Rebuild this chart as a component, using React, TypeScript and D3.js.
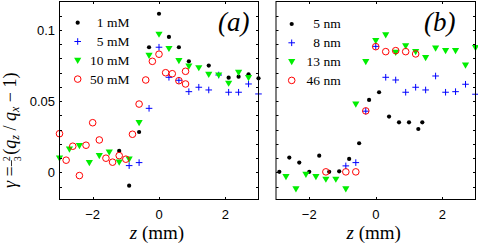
import {useEffect, useRef} from 'react';
import * as d3 from 'd3';

// panel (a): concentrations
const Z_1MM = [-1.2, -0.9, -0.6, -0.3, 0, 0.3, 0.6, 0.9, 1.5, 2.1, 2.4, 2.7, 3.0];
const G_1MM = [0.0151, -0.0093, 0.0284, 0.0879, 0.1114, 0.0951, 0.0879, 0.078, 0.075, 0.0665, 0.0672, 0.0689, 0.0661];

const Z_5MM = [-0.9, -0.6, -0.3, 0, 0.3, 0.6, 0.9, 1.2, 1.5, 1.8, 2.1, 2.4, 2.7, 3.0];
const G_5MM = [0.0048, 0.0069, 0.045, 0.0879, 0.0668, 0.0647, 0.0567, 0.0598, 0.0579, 0.0684, 0.0563, 0.0563, 0.0621, 0.0551];

const Z_10MM = [-3, -2.7, -2.4, -2.1, -1.8, -1.5, -1.2, -0.9, -0.6, -0.3, 0, 0.3, 0.6, 0.9, 1.2, 1.5, 1.8, 2.1, 2.4, 2.7];
const G_10MM = [0.010, 0.0163, 0.0188, 0.0069, 0.0118, 0.0142, 0.0072, 0.0093, 0.035, 0.0822, 0.097, 0.087, 0.0785, 0.0747, 0.0735, 0.0689, 0.0684, 0.0626, 0.0703, 0.0665];

const Z_50MM = [-3, -2.8, -2.6, -2.4, -2.2, -2.0, -1.8, -1.6, -1.4, -1.2, -1.0, -0.8, -0.6, -0.4, -0.2, 0, 0.2, 0.4, 0.6, 0.8, 0.8];
const G_50MM = [0.0272, 0.0086, 0.0184, -0.0022, 0.0191, 0.0349, 0.0228, 0.0100, 0.0072, 0.0118, 0.0093, 0.0268, 0.048, 0.0649, 0.078, 0.083, 0.070, 0.0693, 0.0644, 0.071, 0.0621];

// panel (b): sizes
const Z_5NM = [-2.9, -2.6, -2.3, -2.0, -1.7, -1.4, -1.1, -0.8, -0.5, -0.2, 0.1, 0.4, 0.7, 1.0, 1.28, 1.4];
const G_5NM = [0.0004, 0.0104, 0.0069, 0.0004, 0.0118, 0.0004, 0.0008, 0.0095, 0.0205, 0.0509, 0.0563, 0.0392, 0.0352, 0.0352, 0.0305, 0.0352];

const Z_8NM = [-0.9, -0.6, -0.3, 0, 0.3, 0.6, 0.9, 1.2, 1.5, 1.8, 2.1, 2.4, 2.7, 3.0];
const G_8NM = [0.0046, 0.0069, 0.043, 0.0885, 0.0668, 0.0649, 0.0563, 0.0598, 0.0579, 0.0677, 0.0563, 0.0567, 0.0619, 0.0549];

const Z_13NM = [-2.7, -2.4, -2.1, -1.8, -1.5, -1.2, -0.9, -0.6, -0.3, 0, 0.3, 0.6, 0.9, 1.2, 1.5, 1.8, 2.1, 2.4, 2.7, 3.0];
const G_13NM = [-0.0029, -0.0116, -0.0013, -0.0029, -0.0048, -0.0048, -0.0116, 0.0479, 0.0778, 0.0925, 0.0965, 0.0843, 0.0888, 0.0848, 0.0806, 0.0872, 0.0855, 0.0855, 0.0754, 0.0876];

const Z_46NM = [-1.5, -0.9, -0.6, -0.3, 0, 0.3, 0.6, 0.9, 1.2];
const G_46NM = [0.0004, 0.0004, 0.0004, 0.0432, 0.0883, 0.0848, 0.0855, 0.0848, 0.0832];

const LABELS_A = ['1 mM', '5 mM', '10 mM', '50 mM'];
const LABELS_B = ['5 nm', '8 nm', '13 nm', '46 nm'];
const MARKERS = ['dot', 'plus', 'tri', 'circ'];

const X_TICKS = [-2, 0, 2];
const X_TICK_LABELS = ['\u22122', '0', '2'];
const Y_TICKS = [-0.01, 0, 0.01, 0.02, 0.03, 0.04, 0.05, 0.06, 0.07, 0.08, 0.09, 0.1, 0.11];
const Y_LABEL_TICKS = [0, 0.05, 0.1];
const Y_TICK_LABELS = ['0', '0.05', '0.1'];

const SERIF = '"Liberation Serif", "DejaVu Serif", serif';
const SANS = '"Liberation Sans", Arial, sans-serif';

const CHART_PARAMS = {
    width: 478,
    height: 243,
    top: 1.5,
    bottom: 199.5,
    tickLen: 2.5,
    panels: [
        {left: 59.5, right: 258.5, legendX: 77.7, legendTextX: 129.5, legendY: 22.7, tag: 'a', tagX: 218, showY: true},
        {left: 276, right: 475.5, legendX: 291.7, legendTextX: 340.7, legendY: 24, tag: 'b', tagX: 424, showY: false}
    ]
};

const drawMarker = (sel, kind) => {
    if (kind === 'dot') {
        sel.append('circle').attr('r', 2.1).attr('fill', '#000');
    } else if (kind === 'plus') {
        sel.append('path').attr('d', 'M-3.3,0H3.3M0,-3.3V3.3')
            .attr('stroke', '#0000ff').attr('stroke-width', 1).attr('fill', 'none');
    } else if (kind === 'tri') {
        sel.append('path').attr('d', 'M-3.6,-2.6L3.6,-2.6L0,3.6Z').attr('fill', '#00ee00');
    } else {
        sel.append('circle').attr('r', 3.3).attr('fill', 'none')
            .attr('stroke', '#ff0000').attr('stroke-width', 1);
    }
};

export default function App() {
    const svgRef = useRef(null);

    useEffect(() => {
        const svg = d3.select(svgRef.current);
        svg.selectAll('*').remove();

        const yScale = d3.scaleLinear().domain([-0.019, 0.12]).range([CHART_PARAMS.bottom, CHART_PARAMS.top]);

        const seriesA = [[Z_1MM, G_1MM], [Z_5MM, G_5MM], [Z_10MM, G_10MM], [Z_50MM, G_50MM]];
        const seriesB = [[Z_5NM, G_5NM], [Z_8NM, G_8NM], [Z_13NM, G_13NM], [Z_46NM, G_46NM]];

        CHART_PARAMS.panels.forEach((p, pi) => {
            const xScale = d3.scaleLinear().domain([-3, 3]).range([p.left, p.right]);
            const g = svg.append('g');
            const series = pi === 0 ? seriesA : seriesB;
            const labels = pi === 0 ? LABELS_A : LABELS_B;

            // data
            series.forEach(([zs, gs], si) => {
                zs.forEach((z, i) => {
                    const m = g.append('g').attr('transform', `translate(${xScale(z)},${yScale(gs[i])})`);
                    drawMarker(m, MARKERS[si]);
                });
            });

            // box + ticks
            g.append('rect')
                .attr('x', p.left).attr('y', CHART_PARAMS.top)
                .attr('width', p.right - p.left).attr('height', CHART_PARAMS.bottom - CHART_PARAMS.top)
                .attr('fill', 'none').attr('stroke', '#000').attr('stroke-width', 1);

            const tl = CHART_PARAMS.tickLen;
            X_TICKS.forEach((t, i) => {
                const x = Math.round(xScale(t)) + 0.5;
                g.append('line').attr('x1', x).attr('x2', x)
                    .attr('y1', CHART_PARAMS.bottom).attr('y2', CHART_PARAMS.bottom - tl).attr('stroke', '#000');
                g.append('line').attr('x1', x).attr('x2', x)
                    .attr('y1', CHART_PARAMS.top).attr('y2', CHART_PARAMS.top + tl).attr('stroke', '#000');
                g.append('text').attr('x', xScale(t)).attr('y', 218.5)
                    .attr('text-anchor', 'middle')
                    .style('font-family', SANS).style('font-size', '13px')
                    .text(X_TICK_LABELS[i]);
            });
            Y_TICKS.forEach((t) => {
                const y = Math.round(yScale(t)) + 0.5;
                g.append('line').attr('x1', p.left).attr('x2', p.left + tl)
                    .attr('y1', y).attr('y2', y).attr('stroke', '#000');
                g.append('line').attr('x1', p.right).attr('x2', p.right - tl)
                    .attr('y1', y).attr('y2', y).attr('stroke', '#000');
            });
            if (p.showY) {
                Y_LABEL_TICKS.forEach((t, i) => {
                    g.append('text').attr('x', p.left - 4.5).attr('y', yScale(t))
                        .attr('dy', '0.36em').attr('text-anchor', 'end')
                        .style('font-family', SANS).style('font-size', '13px')
                        .text(Y_TICK_LABELS[i]);
                });
            }

            // legend
            labels.forEach((lab, i) => {
                const y = p.legendY + i * 18.8;
                const m = g.append('g').attr('transform', `translate(${p.legendX},${y})`);
                drawMarker(m, MARKERS[i]);
                g.append('text').attr('x', p.legendTextX).attr('y', y).attr('dy', '0.33em')
                    .attr('text-anchor', 'end')
                    .style('font-family', SERIF).style('font-size', '13.5px')
                    .text(lab);
            });

            // panel tag
            g.append('text').attr('x', p.tagX).attr('y', 31)
                .style('font-family', SERIF).style('font-style', 'italic').style('font-size', '27px')
                .text(`(${p.tag})`);

            // x label
            const xl = g.append('text').attr('x', (p.left + p.right) / 2 - 2).attr('y', 238.5)
                .attr('text-anchor', 'middle')
                .style('font-family', SERIF).style('font-size', '19px');
            xl.append('tspan').style('font-style', 'italic').text('z');
            xl.append('tspan').text(' (mm)');
        });

        // y label, rotated
        const yl = svg.append('g').attr('transform', 'translate(16,105) rotate(-90)');
        const txt = yl.append('text').attr('x', -83).attr('y', 0)
            .style('font-family', SERIF).style('font-size', '18px');
        txt.append('tspan').style('font-style', 'italic').text('\u03b3');
        txt.append('tspan').text(' = ');
        const w0 = txt.node().getComputedTextLength();
        txt.append('tspan').style('font-size', '10px').attr('dy', -6).attr('dx', 0.5).text('2');
        txt.append('tspan').style('font-size', '10px').attr('dy', 11).attr('dx', -5).text('3');
        txt.append('tspan').attr('dy', -5).attr('dx', 1.5).text('(');
        txt.append('tspan').style('font-style', 'italic').text('q');
        txt.append('tspan').style('font-style', 'italic').style('font-size', '12px').attr('dy', 3).text('z');
        txt.append('tspan').attr('dy', -3).text(' / ');
        txt.append('tspan').style('font-style', 'italic').text('q');
        txt.append('tspan').style('font-style', 'italic').style('font-size', '12px').attr('dy', 3).text('x');
        txt.append('tspan').attr('dy', -3).text(' \u2212 1)');
        yl.append('line').attr('x1', -83 + w0).attr('x2', -83 + w0 + 6)
            .attr('y1', -4.5).attr('y2', -4.5).attr('stroke', '#000').attr('stroke-width', 0.8);
    }, []);

    return (
        <svg ref={svgRef} width={CHART_PARAMS.width} height={CHART_PARAMS.height}
            style={{position: 'absolute', left: 0, top: 0, background: '#fff'}} />
    );
}
